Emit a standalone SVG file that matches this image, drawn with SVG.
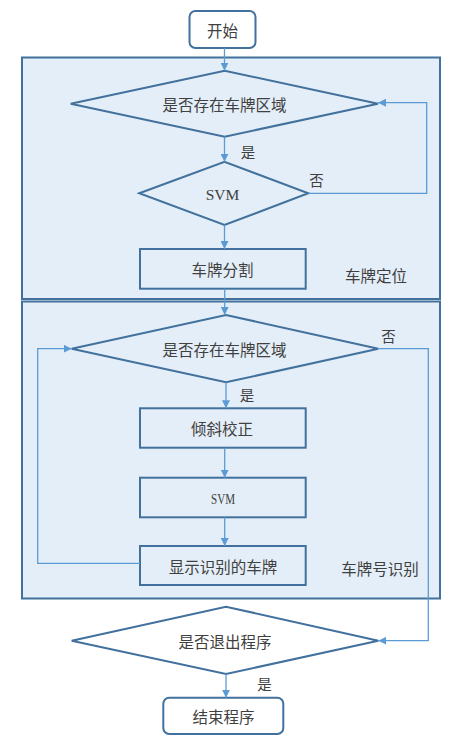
<svg xmlns="http://www.w3.org/2000/svg" width="460" height="744" viewBox="0 0 460 744">
<style>
.cont{fill:#E4EEF8;stroke:#41719C;stroke-width:2}
.shape{fill:#E4EEF8;stroke:#41719C;stroke-width:2}
.term{fill:#FFFFFF;stroke:#41719C;stroke-width:2}
.conn{fill:none;stroke:#5B9BD5;stroke-width:1.3}
text{font-family:"Noto Sans CJK SC","Liberation Sans",sans-serif;font-size:15.5px;fill:#404040;text-anchor:middle;dominant-baseline:central}
.lbl{font-size:14.5px}
.svm{font-family:"Liberation Serif",serif}
</style>
<defs>
<marker id="arr" viewBox="0 0 10 10" refX="10" refY="5" markerWidth="8" markerHeight="8" markerUnits="userSpaceOnUse" orient="auto">
<path d="M0,0 L10,5 L0,10 z" fill="#5B9BD5"/>
</marker>
</defs>
<g id="container-locate"><rect class="cont" x="22" y="57.5" width="418" height="241.5"/><text x="376" y="275">车牌定位</text></g>
<g id="container-recognize"><rect class="cont" x="22" y="301.5" width="418" height="297"/><text x="380" y="568">车牌号识别</text></g>
<g id="start"><rect class="term" x="189.5" y="11" width="66" height="37" rx="6"/><text x="222.5" y="30">开始</text></g>
<g id="d1"><polygon class="shape" points="70.7,103.7 224.7,70.7 378,103.7 224.7,136.7"/><text x="224.5" y="104">是否存在车牌区域</text></g>
<g id="svm1"><polygon class="shape" points="139.3,193.3 224.5,161.7 308.3,193.3 224.5,225"/><text class="svm" x="222.5" y="194" font-size="16">SVM</text></g>
<g id="seg"><rect class="shape" x="140" y="249" width="165.7" height="39.7"/><text x="222.5" y="269">车牌分割</text></g>
<g id="d2"><polygon class="shape" points="71.7,348.7 226,315 378.3,348.7 226,382.3"/><text x="224.5" y="349">是否存在车牌区域</text></g>
<g id="tilt"><rect class="shape" x="140" y="408.3" width="165.7" height="39.4"/><text x="222" y="428">倾斜校正</text></g>
<g id="svm2"><rect class="shape" x="140" y="477.7" width="165.7" height="39.6"/><text class="svm" x="223" y="498" font-size="14" textLength="24" lengthAdjust="spacingAndGlyphs">SVM</text></g>
<g id="show"><rect class="shape" x="140" y="546" width="165.7" height="39"/><text x="223" y="566">显示识别的车牌</text></g>
<g id="d3"><polygon class="term" points="71.7,640.7 226,606.7 378.3,640.7 226,674"/><text x="225" y="641">是否退出程序</text></g>
<g id="end"><rect class="term" x="163.3" y="697.7" width="120" height="36.3" rx="6"/><text x="223.5" y="716">结束程序</text></g>
<g id="connectors">
<line class="conn" x1="224.5" y1="48" x2="224.5" y2="70.7" marker-end="url(#arr)"/>
<line class="conn" x1="224.5" y1="136.7" x2="224.5" y2="161.7" marker-end="url(#arr)"/>
<path class="conn" d="M308.3,193.3 H426.7 V102.7 H378" marker-end="url(#arr)"/>
<line class="conn" x1="224.5" y1="225" x2="224.5" y2="249" marker-end="url(#arr)"/>
<line class="conn" x1="224.7" y1="288.7" x2="224.7" y2="315" marker-end="url(#arr)"/>
<line class="conn" x1="226" y1="382.3" x2="226" y2="408.3" marker-end="url(#arr)"/>
<line class="conn" x1="224.7" y1="447.7" x2="224.7" y2="477.7" marker-end="url(#arr)"/>
<line class="conn" x1="224.7" y1="517.3" x2="224.7" y2="546" marker-end="url(#arr)"/>
<path class="conn" d="M140,563.3 H37.7 V348.7 H71.7" marker-end="url(#arr)"/>
<path class="conn" d="M378.3,348.7 H428.3 V640.7 H378.3" marker-end="url(#arr)"/>
<line class="conn" x1="226" y1="674" x2="226" y2="697.7" marker-end="url(#arr)"/>
<text class="lbl" x="248" y="151">是</text>
<text class="lbl" x="316.5" y="179">否</text>
<text class="lbl" x="388.5" y="335">否</text>
<text class="lbl" x="247" y="394">是</text>
<text class="lbl" x="264.5" y="683">是</text>
</g>
</svg>
